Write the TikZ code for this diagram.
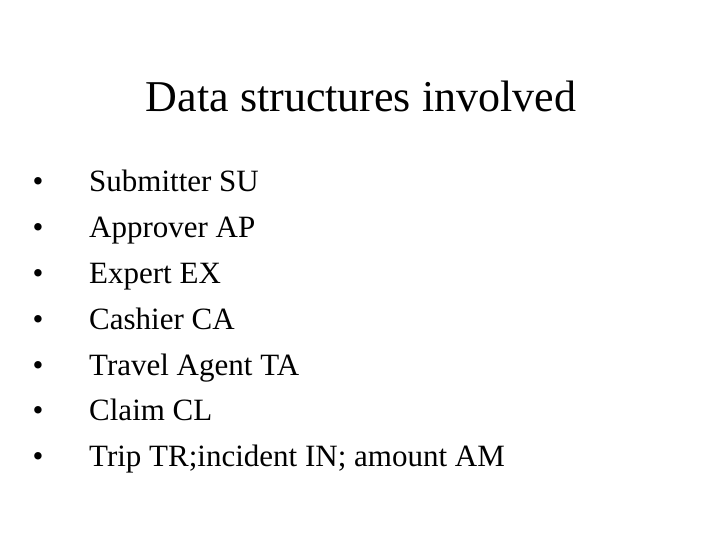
\documentclass[tikz,border=0pt]{standalone}
\usepackage{fontspec}
\setmainfont{Liberation Serif}
\begin{document}
\begin{tikzpicture}[x=1pt,y=1pt,
  item/.style={anchor=base west,inner sep=0pt,font=\fontsize{31}{31}\selectfont},
  bul/.style={anchor=base,inner sep=0pt,font=\fontsize{31}{31}\selectfont}]
\useasboundingbox (0,0) rectangle (720,540);
\node[anchor=base,inner sep=0pt,font=\fontsize{44}{44}\selectfont] (title) at (361,540-112) {Data structures involved};
\foreach \t [count=\i] in {Submitter SU,Approver AP,Expert EX,Cashier CA,Travel Agent TA,Claim CL,Trip TR;incident IN; amount AM}{
  \node[bul] (b\i) at (38,540-192-45.8*\i+45.8) {•};
  \node[item] (t\i) at (89,540-192-45.8*\i+45.8) {\t};
}
\end{tikzpicture}
\end{document}
